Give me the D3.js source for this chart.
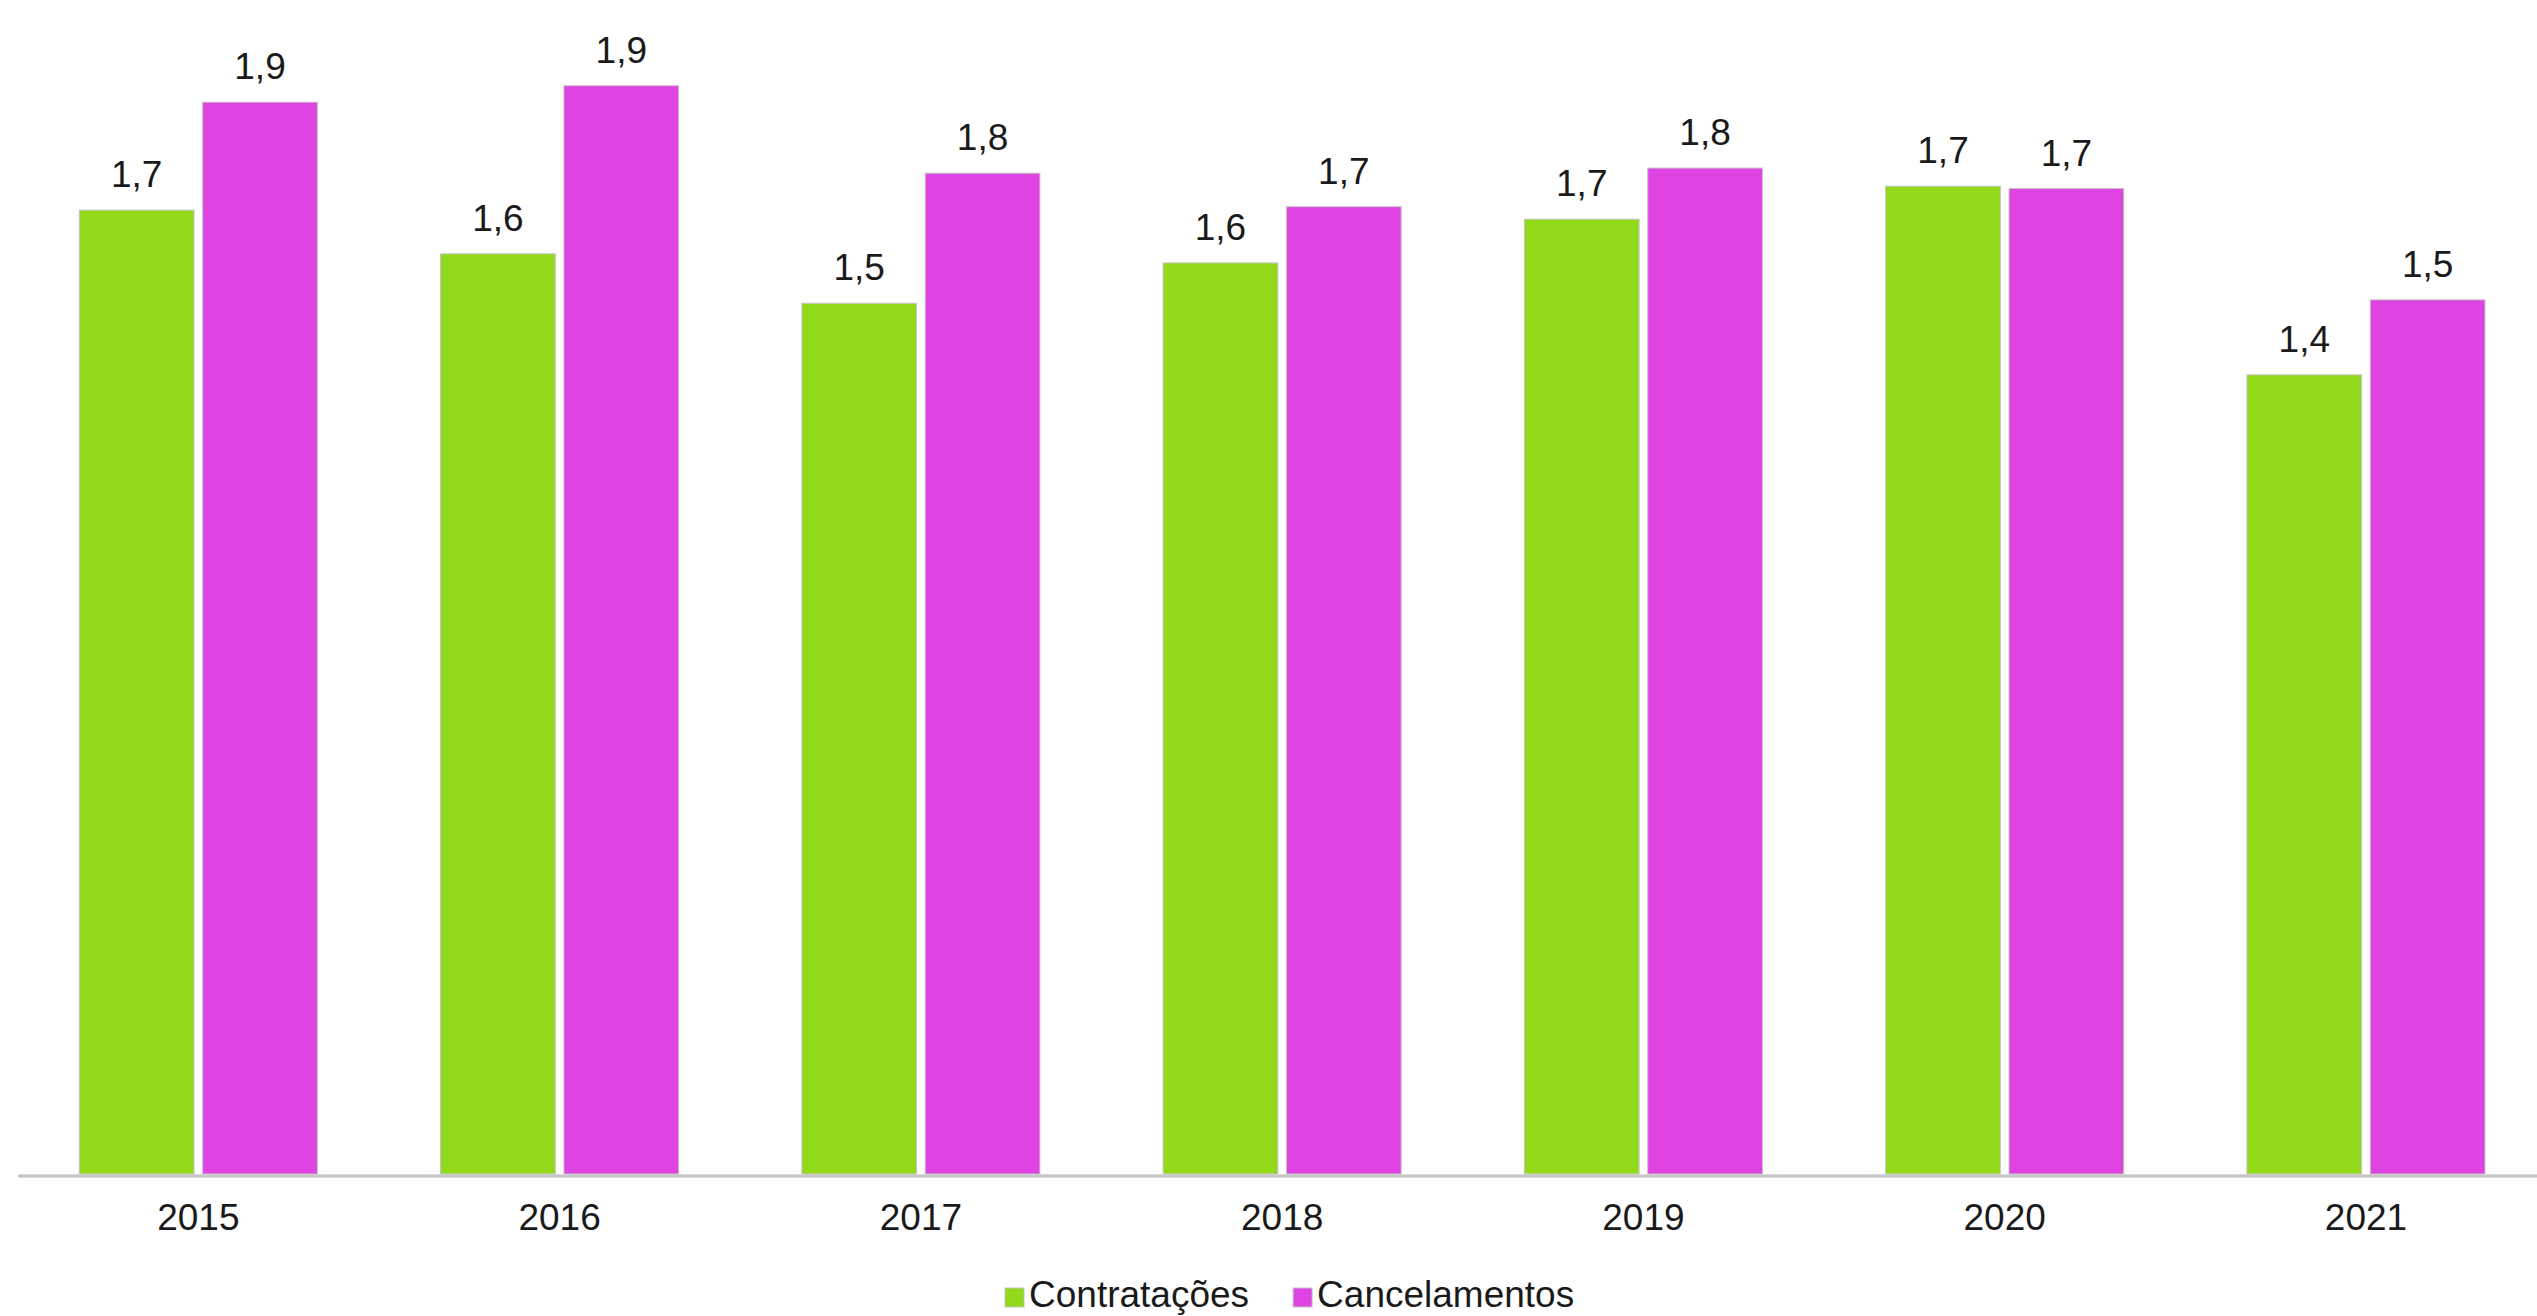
<!DOCTYPE html>
<html>
<head>
<meta charset="utf-8">
<script src="https://cdn.jsdelivr.net/npm/d3@7"></script>
<style>
  html, body { margin: 0; padding: 0; background: #ffffff; }
  svg { display: block; }
  text { font-family: "Liberation Sans", Arial, sans-serif; fill: #1a1a1a; }
</style>
</head>
<body>
<svg id="chart" width="2537" height="1316"></svg>
<script>
const years = ["2015", "2016", "2017", "2018", "2019", "2020", "2021"];
const seriesNames = ["Contratações", "Cancelamentos"];
const contratacoes = [1.697, 1.620, 1.533, 1.604, 1.681, 1.739, 1.407];
const cancelamentos = [1.887, 1.916, 1.762, 1.703, 1.771, 1.735, 1.539];
const seriesColors = ["#92D91A", "#DF43E2"];

const rows = years.map((y, i) => ({ year: y, values: [contratacoes[i], cancelamentos[i]] }));

const baseY = 1174, topY = 38;
const svg = d3.select("#chart");

const x0 = d3.scaleBand().domain(years).range([17.7, 2546.6]).paddingInner(0.341).paddingOuter(0.1705);
const x1 = d3.scaleBand().domain([0, 1]).range([0, x0.bandwidth()]).paddingInner(0.07).paddingOuter(0);
const y = d3.scaleLinear().domain([0, 2]).range([baseY, topY]);

const fmt = v => v.toFixed(1).replace(".", ",");

const groups = svg.append("g").selectAll("g").data(rows).join("g")
  .attr("transform", d => `translate(${x0(d.year)},0)`);

groups.selectAll("rect").data(d => d.values.map((v, k) => ({ v, k }))).join("rect")
  .attr("x", d => x1(d.k))
  .attr("y", d => y(d.v))
  .attr("width", x1.bandwidth())
  .attr("height", d => baseY - y(d.v))
  .attr("fill", d => seriesColors[d.k])
  .attr("stroke", "#c4c4c4")
  .attr("stroke-width", 1);

groups.selectAll("text.lbl").data(d => d.values.map((v, k) => ({ v, k }))).join("text")
  .attr("class", "lbl")
  .attr("x", d => x1(d.k) + x1.bandwidth() / 2)
  .attr("y", d => y(d.v) - 23)
  .attr("text-anchor", "middle")
  .style("font-size", "37px")
  .text(d => fmt(d.v));

// x axis
const xAxis = d3.axisBottom(x0).tickSize(0).tickPadding(0);
const axisG = svg.append("g").attr("transform", `translate(0,${baseY + 1.5})`).call(xAxis);
axisG.select(".domain").attr("stroke", "#c8c8c8").attr("stroke-width", 3.5);
axisG.selectAll(".tick text")
  .attr("y", 54)
  .attr("dy", null)
  .style("font-size", "37px")
  .style("font-family", "'Liberation Sans', Arial, sans-serif")
  .attr("fill", "#1a1a1a");

// legend
const legend = svg.append("g");
const items = legend.selectAll("g").data(seriesNames).join("g");
items.append("rect")
  .attr("width", 19).attr("height", 19)
  .attr("y", 1288)
  .attr("fill", (d, i) => seriesColors[i])
  .attr("stroke", "#c4c4c4").attr("stroke-width", 1);
items.append("text")
  .attr("y", 1307)
  .style("font-size", "37px")
  .text(d => d);
const widths = [];
items.each(function () { widths.push(this.querySelector("text").getComputedTextLength()); });
const gapSq = 5, gapItem = 44;
let start = 1005;
items.each(function (d, i) {
  const g = d3.select(this);
  g.select("rect").attr("x", start);
  g.select("text").attr("x", start + 19 + gapSq);
  start += 19 + gapSq + widths[i] + gapItem;
});
</script>
</body>
</html>
